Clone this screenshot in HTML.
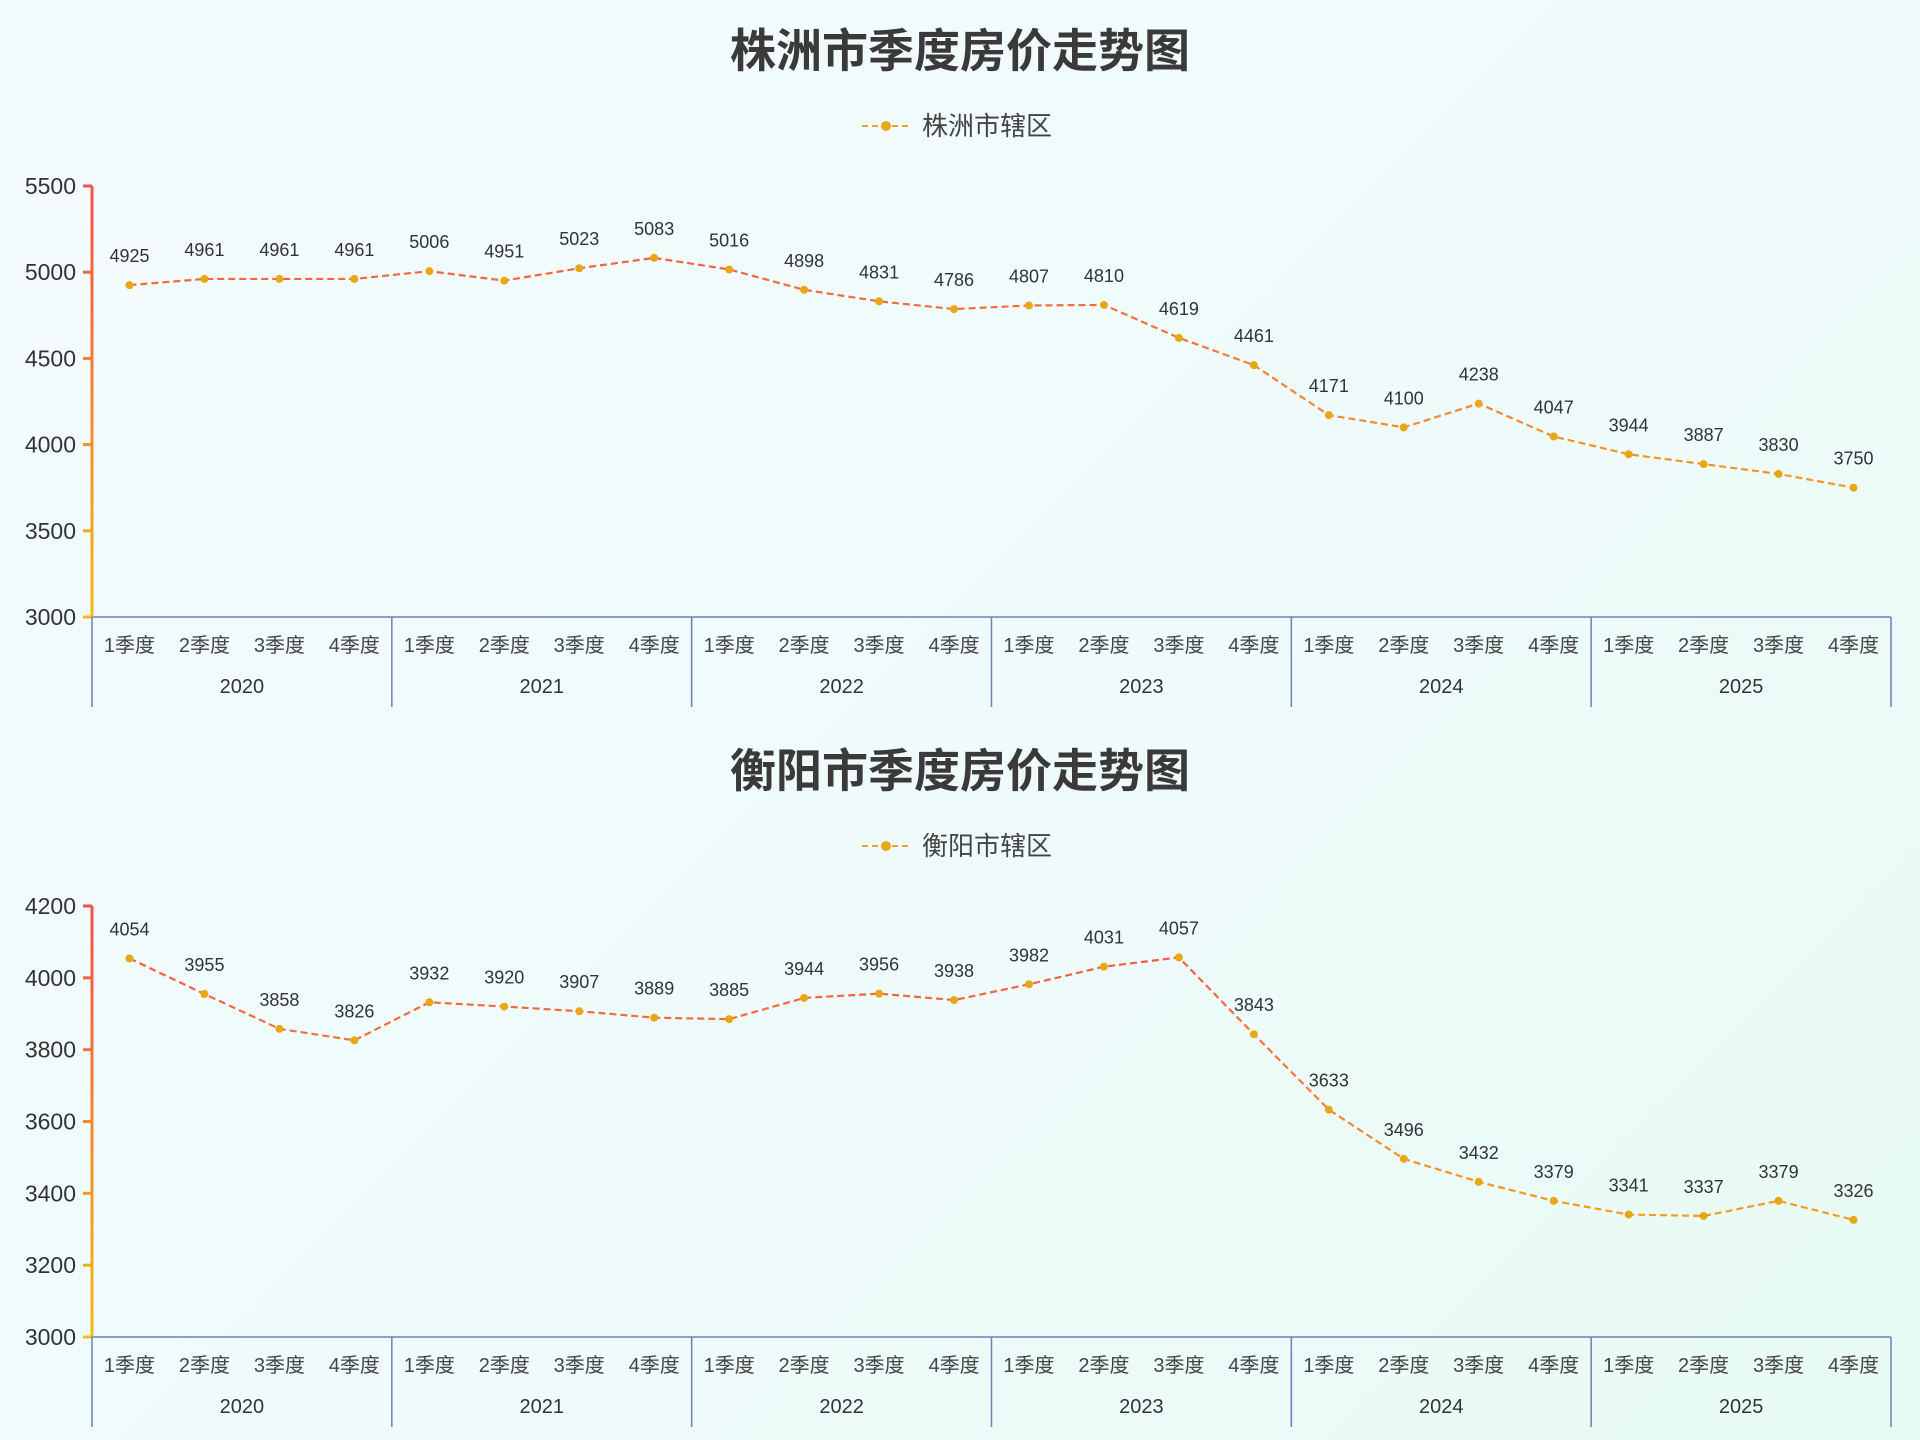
<!DOCTYPE html>
<html><head><meta charset="utf-8"><style>
html,body{margin:0;padding:0}
body{width:1920px;height:1440px;background:linear-gradient(135deg,#f4fbfd 0%,#eefbfa 60%,#e8fbf4 100%);font-family:"Liberation Sans","Noto Sans CJK SC",sans-serif;}
svg{display:block}
</style></head><body>
<svg id="s" width="1920" height="1440" xmlns="http://www.w3.org/2000/svg" font-family="Liberation Sans, Noto Sans CJK SC, sans-serif"></svg>
<script>
const svg=document.getElementById('s');
let h='<defs><linearGradient id="g1" gradientUnits="userSpaceOnUse" x1="0" y1="186" x2="0" y2="617"><stop offset="0" stop-color="#f2504e"/><stop offset="1" stop-color="#f5bb10"/></linearGradient><linearGradient id="g2" gradientUnits="userSpaceOnUse" x1="0" y1="906" x2="0" y2="1337"><stop offset="0" stop-color="#f2504e"/><stop offset="1" stop-color="#f5bb10"/></linearGradient></defs>';
function chart(o){
 const L=92,R=1891,bw=(R-L)/24;
 h+=`<text x="960" y="${o.ty}" text-anchor="middle" font-size="46" font-weight="bold" fill="#3a3a3a">${o.title}</text>`;
 h+=`<line x1="862" y1="${o.ly}" x2="910" y2="${o.ly}" stroke="#f0a030" stroke-width="2" stroke-dasharray="6,4"/><circle cx="886" cy="${o.ly}" r="5" fill="#e6a817"/>`;
 h+=`<text x="922" y="${o.ly+9}" font-size="26" fill="#444">${o.leg}</text>`;
 const Y=v=>o.y0+(v-o.min)/(o.max-o.min)*(o.y1-o.y0);
 h+=`<line x1="${L}" y1="${o.y1}" x2="${L}" y2="${o.y0}" stroke="url(#${o.g})" stroke-width="3"/>`;
 for(let v=o.min;v<=o.max;v+=o.step){const y=Y(v);
  h+=`<line x1="${L-9}" y1="${y}" x2="${L}" y2="${y}" stroke="url(#${o.g})" stroke-width="3"/>`;
  h+=`<text x="${L-16}" y="${y+8}" text-anchor="end" font-size="23" fill="#333">${v}</text>`;}
 h+=`<line x1="${L}" y1="${o.y0}" x2="${R}" y2="${o.y0}" stroke="#6e7fb8" stroke-width="1.5"/>`;
 for(let k=0;k<=6;k++){const x=L+k*4*bw;h+=`<line x1="${x}" y1="${o.y0}" x2="${x}" y2="${o.y0+90}" stroke="#6e7fb8" stroke-width="1.5"/>`;
  if(k<6)h+=`<text x="${x+2*bw}" y="${o.y0+76}" text-anchor="middle" font-size="20" fill="#333">${2020+k}</text>`;}
 let pts=[];
 o.d.forEach((v,i)=>{const x=L+bw*(i+0.5);pts.push([x,Y(v)]);
  h+=`<text x="${x}" y="${o.y0+35}" text-anchor="middle" font-size="20" fill="#444">${i%4+1}季度</text>`;});
 h+=`<polyline points="${pts.map(p=>p.join(',')).join(' ')}" fill="none" stroke="url(#${o.g})" stroke-width="2.2" stroke-dasharray="7,4"/>`;
 pts.forEach((p,i)=>{h+=`<circle cx="${p[0]}" cy="${p[1]}" r="4" fill="#e6a817"/><text x="${p[0]}" y="${p[1]-23}" text-anchor="middle" font-size="18" fill="#333">${o.d[i]}</text>`;});
}
chart({title:'株洲市季度房价走势图',leg:'株洲市辖区',ty:67,ly:126,y0:617,y1:186,min:3000,max:5500,step:500,g:'g1',
 d:[4925,4961,4961,4961,5006,4951,5023,5083,5016,4898,4831,4786,4807,4810,4619,4461,4171,4100,4238,4047,3944,3887,3830,3750]});
chart({title:'衡阳市季度房价走势图',leg:'衡阳市辖区',ty:787,ly:846,y0:1337,y1:906,min:3000,max:4200,step:200,g:'g2',
 d:[4054,3955,3858,3826,3932,3920,3907,3889,3885,3944,3956,3938,3982,4031,4057,3843,3633,3496,3432,3379,3341,3337,3379,3326]});
svg.innerHTML=h;
</script>
</body></html>
